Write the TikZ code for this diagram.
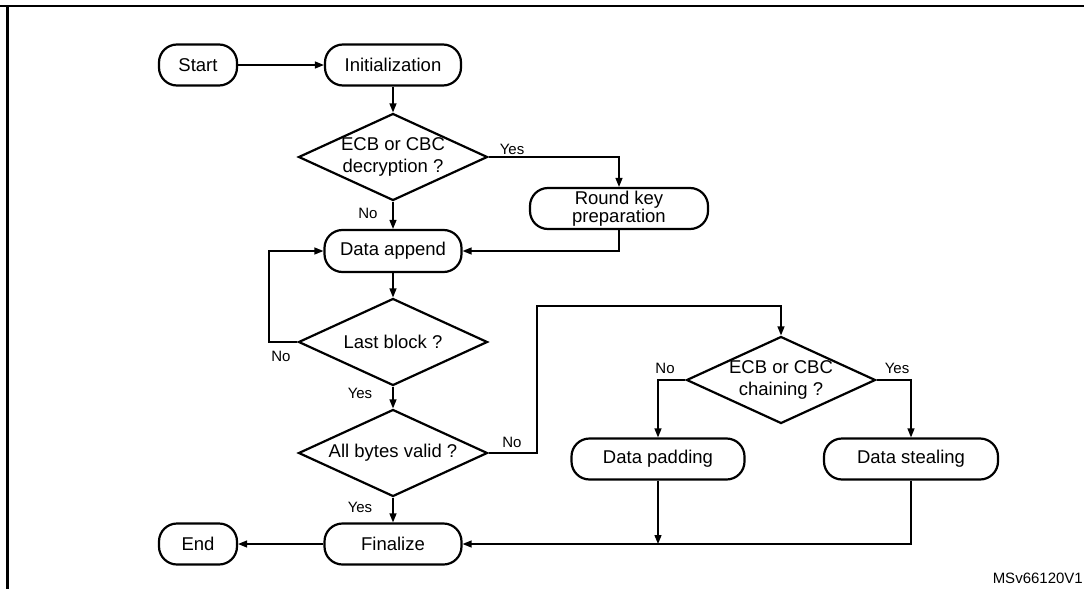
\documentclass[tikz,border=0pt]{standalone}
\usepackage{fontspec}
\setmainfont{Liberation Sans}
\usetikzlibrary{shapes.geometric,arrows.meta}
\tikzset{
	term/.style={draw, line width=2.2pt, rounded corners=18pt, minimum height=41pt, inner sep=0pt, align=center, font=\fontsize{18.5}{16}\selectfont},
	decide/.style={draw, diamond, line width=2.2pt, aspect=2.2, inner sep=0pt, minimum width=189pt, minimum height=87pt, align=center, font=\fontsize{18.5}{21.5}\selectfont},
	flow/.style={line width=1.3pt, -{Triangle[length=9pt,width=7pt]}},
	answer/.style={inner sep=0pt, font=\fontsize{15}{18}\selectfont}
}

\begin{document}
\begin{tikzpicture}[x=1pt, y=-1pt]
		%%%%% START %%%%%
		\useasboundingbox (0,0) rectangle (1084,589);
		\draw[line width=2.6pt] (0,6) -- (1084,6);
		\draw[line width=2.2pt] (7.5,6) -- (7.5,589);
		
		\node[term, minimum width=78pt] (start) at (198,65) {Start};
		\node[term, minimum width=136pt] (init) at (393,65) {Initialization};
		\node[decide] (dec) at (393,157) {ECB or CBC\\decryption ?};
		\node[term, minimum width=178pt] (rkp) at (619,208.5) {Round key\\preparation};
		\node[term, minimum width=137pt, minimum height=42pt] (app) at (393,251) {Data append};
		\node[decide] (last) at (393,342) {Last block ?};
		\node[decide] (valid) at (393,453) {All bytes valid ?};
		\node[decide] (chain) at (781,380) {ECB or CBC\\chaining ?};
		\node[term, minimum width=173pt] (pad) at (658,459) {Data padding};
		\node[term, minimum width=174pt] (steal) at (911,459) {Data stealing};
		\node[term, minimum width=137pt] (fin) at (393,544) {Finalize};
		\node[term, minimum width=78pt] (stop) at (198,544) {End};
		
		\coordinate (back) at (269,342);
		\coordinate (turn) at (537,306);
		
		\draw[flow] (start) -- (init);
		\draw[flow] (init) -- (dec);
		\draw[flow] (dec.east) -| (rkp.north);
		\draw[flow] (dec) -- (app);
		\draw[flow] (rkp.south) |- (app.east);
		\draw[flow] (app) -- (last);
		\draw[flow] (last.west) -- (back) |- (app.west);
		\draw[flow] (last) -- (valid);
		\draw[flow] (valid.east) -| (turn) -| (chain.north);
		\draw[flow] (chain.west) -| (pad.north);
		\draw[flow] (chain.east) -| (steal.north);
		\draw[flow] (valid) -- (fin);
		\draw[flow] (pad.south) -- (pad.south |- fin.east);
		\draw[flow] (steal.south) |- (fin.east);
		\draw[flow] (fin) -- (stop);
		
		\node[answer] (decyes) at (512,149) {Yes};
		\node[answer] (decno) at (368,213) {No};
		\node[answer] (lastno) at (281,356) {No};
		\node[answer] (lastyes) at (360,393) {Yes};
		\node[answer] (validno) at (512,442) {No};
		\node[answer] (validyes) at (360,507) {Yes};
		\node[answer] (chainno) at (665,368) {No};
		\node[answer] (chainyes) at (897,368) {Yes};
		
		\node[answer, anchor=east] (ref) at (1083,578) {MSv66120V1};
		%%%%% END %%%%%
\end{tikzpicture}
\end{document}
